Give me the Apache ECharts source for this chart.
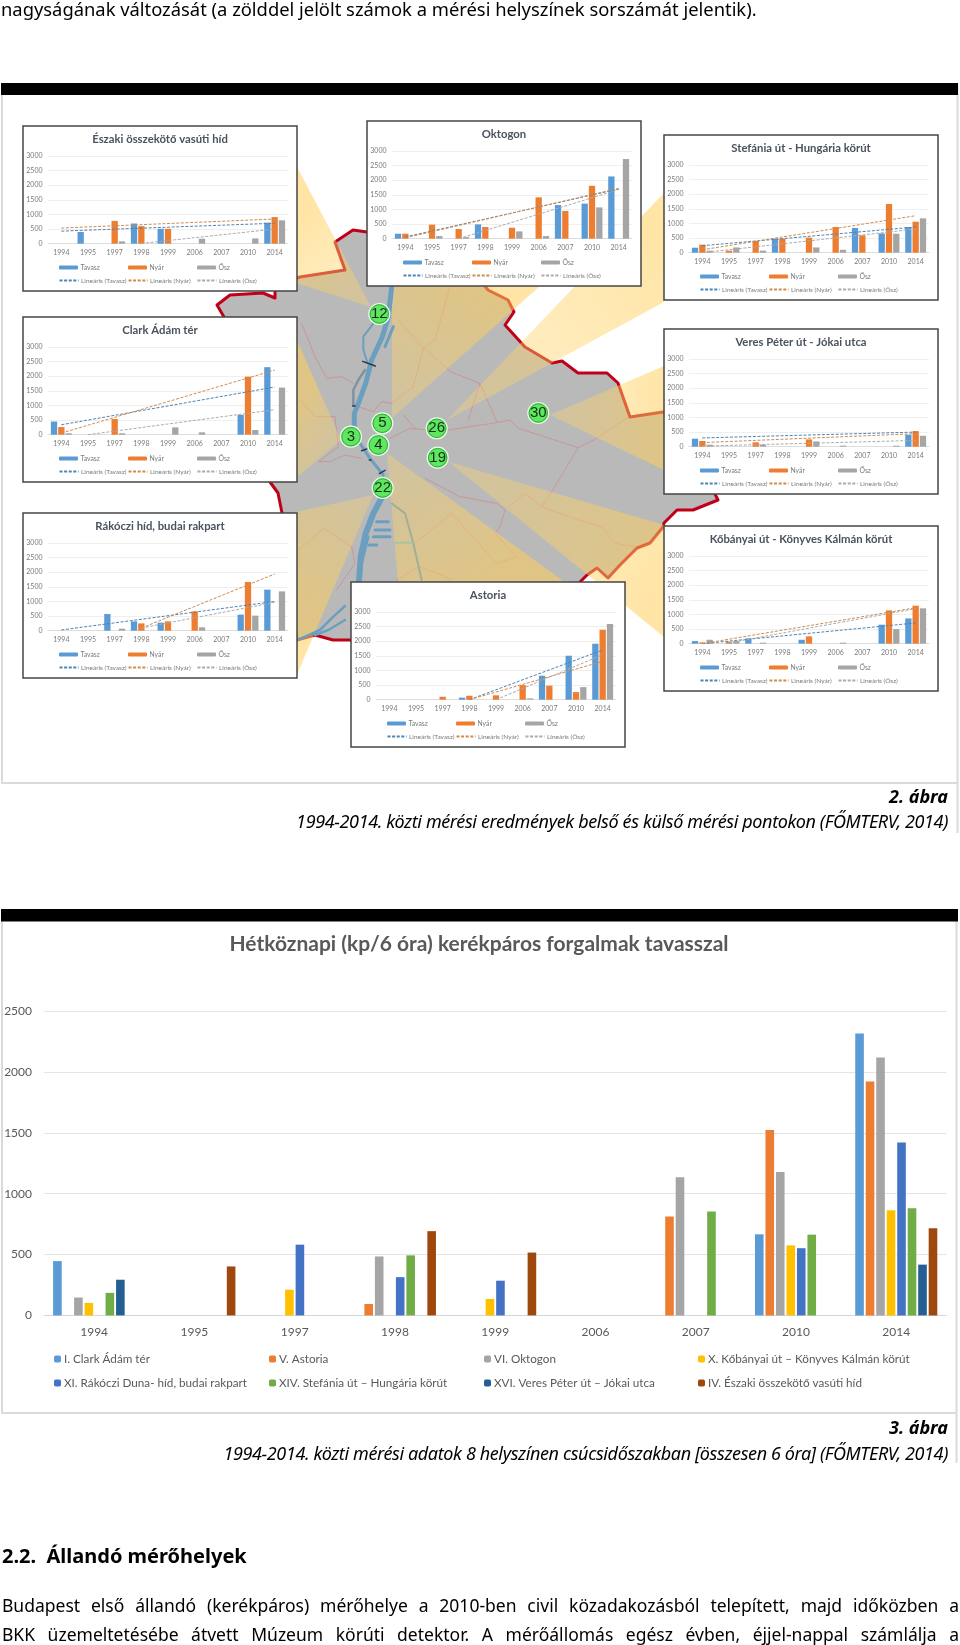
<!DOCTYPE html>
<html lang="hu"><head><meta charset="utf-8">
<script src="https://cdn.jsdelivr.net/npm/echarts@6/dist/echarts.min.js"></script>
<style>
html,body{margin:0;padding:0;background:#fff}
#page{position:relative;width:960px;height:1645px;overflow:hidden}
#chart{position:absolute;left:0;top:0;width:960px;height:1645px}
.t{position:absolute;white-space:nowrap;font-family:"Noto Sans",sans-serif;color:#000;line-height:24px;height:24px}
.r{text-align:right;right:12px}
.i{font-style:italic}
.j{left:2px;width:957px;white-space:normal;text-align:justify;text-align-last:justify;font-size:17.5px}
</style></head><body>
<div id="page">
<div id="chart"></div>
<div class="t" style="left:1px;top:-3px;font-size:18.37px">nagyságának változását (a zölddel jelölt számok a mérési helyszínek sorszámát jelentik).</div>
<div class="t r i" style="top:784px;font-size:18px;font-weight:700">2. ábra</div>
<div class="t r i" style="top:809px;font-size:18px;letter-spacing:-.37px">1994-2014. közti mérési eredmények belső és külső mérési pontokon (FŐMTERV, 2014)</div>
<div class="t r i" style="top:1415px;font-size:18px;font-weight:700">3. ábra</div>
<div class="t r i" style="top:1441px;font-size:18px;letter-spacing:-.38px">1994-2014. közti mérési adatok 8 helyszínen csúcsidőszakban [összesen 6 óra] (FŐMTERV, 2014)</div>
<div class="t" style="left:2px;top:1544px;font-size:20px;font-weight:700">2.2.&nbsp; Állandó mérőhelyek</div>
<div class="t j" style="top:1593px">Budapest első állandó (kerékpáros) mérőhelye a 2010-ben civil közadakozásból telepített, majd időközben a</div>
<div class="t j" style="top:1622px">BKK üzemeltetésébe átvett Múzeum körúti detektor. A mérőállomás egész évben, éjjel-nappal számlálja a</div>
</div>
<script>
// ---- shared categories and ticks
const years = ['1994','1995','1997','1998','1999','2006','2007','2010','2014'];

// ---- main chart: 8 measuring sites, spring weekday traffic (kp/6 óra)
const mainTitle = 'Hétköznapi (kp/6 óra) kerékpáros forgalmak tavasszal';
const clarkAdam  = [446,null,null,null,null,null,null,666,2315];
const astoria    = [null,null,null,94,null,null,813,1523,1922];
const oktogon    = [147,null,null,484,null,null,1135,1177,2118];
const kobanyai   = [103,null,211,null,135,null,null,575,863];
const rakoczi    = [null,null,581,314,285,null,null,552,1420];
const stefania   = [185,null,null,493,null,null,854,663,880];
const veres      = [293,null,null,null,null,null,null,null,417];
const eszaki     = [null,402,null,692,516,null,null,null,716];
const mainNames = ['I. Clark Ádám tér','V. Astoria','VI. Oktogon','X. Kőbányai út – Könyves Kálmán körút',
  'XI. Rákóczi Duna- híd, budai rakpart','XIV. Stefánia út – Hungária körút','XVI. Veres Péter út – Jókai utca','IV. Északi összekötő vasúti híd'];
const mainValues = [clarkAdam,astoria,oktogon,kobanyai,rakoczi,stefania,veres,eszaki];
const mainColors = ['#5B9BD5','#ED7D31','#A5A5A5','#FFC000','#4472C4','#70AD47','#255E91','#9E480E'];

// ---- small charts: Tavasz / Nyár / Ősz bars and their linear trends
const eszakiT = [null,400,null,690,510,null,null,null,720];
const eszakiN = [null,null,780,600,510,null,null,null,910];
const eszakiO = [null,null,80,null,null,170,null,180,800];
const eszakiTrendT = [430,null,null,null,null,null,null,null,700];
const eszakiTrendN = [535,null,null,null,null,null,null,null,845];
const eszakiTrendO = [null,null,null,10,null,null,null,null,500];

const clarkT = [450,null,null,null,null,null,null,680,2310];
const clarkN = [260,null,540,null,null,null,null,1985,null];
const clarkO = [50,null,50,null,250,80,null,160,1610];
const clarkTrendT = [340,null,null,null,null,null,null,null,1630];
const clarkTrendN = [55,null,null,null,null,null,null,null,2210];
const clarkTrendO = [null,0,null,null,null,null,null,null,855];

const oktogonT = [170,null,null,490,null,null,1150,1200,2130];
const oktogonN = [170,480,330,400,375,1415,950,1810,null];
const oktogonO = [null,90,55,null,250,90,null,1070,2725];
const oktogonTrendT = [60,null,null,null,null,null,null,null,1700];
const oktogonTrendN = [30,null,null,null,null,null,null,null,1720];
const oktogonTrendO = [null,null,0,null,null,null,null,null,1680];

const stefaniaT = [170,null,null,480,null,null,845,660,880];
const stefaniaN = [275,70,400,480,515,880,595,1665,1060];
const stefaniaO = [70,180,70,null,180,100,null,650,1175];
const stefaniaTrendT = [240,null,null,null,null,null,null,null,880];
const stefaniaTrendN = [100,null,null,null,null,null,null,null,1265];
const stefaniaTrendO = [0,null,null,null,null,null,null,null,810];

const veresT = [275,null,null,null,null,null,null,null,410];
const veresN = [195,null,150,null,250,null,null,null,535];
const veresO = [70,null,70,null,180,35,null,35,375];
const veresTrendT = [300,null,null,null,null,null,null,null,500];
const veresTrendN = [140,null,null,null,null,null,null,null,445];
const veresTrendO = [20,null,null,null,null,null,null,null,215];

const kobanyaiT = [90,null,180,null,135,null,null,650,865];
const kobanyaiN = [45,70,null,null,250,null,null,1140,1300];
const kobanyaiO = [135,90,35,null,null,35,null,500,1210];
const kobanyaiTrendT = [0,null,null,null,null,null,null,null,710];
const kobanyaiTrendN = [0,null,null,null,null,null,null,null,1230];
const kobanyaiTrendO = [null,30,null,null,null,null,null,null,1200];

const rakocziT = [null,null,570,320,275,null,null,550,1405];
const rakocziN = [null,null,null,250,320,660,null,1665,null];
const rakocziO = [null,null,70,null,null,115,null,515,1345];
const rakocziTrendT = [25,null,null,null,null,null,null,null,1000];
const rakocziTrendN = [null,null,null,90,null,null,null,null,1940];
const rakocziTrendO = [null,null,null,90,null,null,null,null,970];

const astoriaT = [null,null,null,70,null,null,820,1505,1915];
const astoriaN = [null,null,100,135,150,500,480,260,2395];
const astoriaO = [null,null,null,null,null,45,null,430,2590];
const astoriaTrendT = [null,null,null,0,null,null,null,null,1700];
const astoriaTrendN = [null,null,null,0,null,null,null,null,1310];
const astoriaTrendO = [null,null,null,null,0,null,null,null,1540];

const seasonNames = ['Tavasz','Nyár','Ősz'];
const trendNames = ['Lineáris (Tavasz)','Lineáris (Nyár)','Lineáris (Ősz)'];
const seasonColors = ['#5B9BD5','#ED7D31','#A5A5A5'];
const trendColors = ['#4C84B4','#D08A4E','#ABABAB'];

const panels = [
 {title:'Északi összekötő vasúti híd',x:23,y:126,bars:[eszakiT,eszakiN,eszakiO],trends:[eszakiTrendT,eszakiTrendN,eszakiTrendO]},
 {title:'Clark Ádám tér',x:23,y:317,bars:[clarkT,clarkN,clarkO],trends:[clarkTrendT,clarkTrendN,clarkTrendO]},
 {title:'Oktogon',x:367,y:121,bars:[oktogonT,oktogonN,oktogonO],trends:[oktogonTrendT,oktogonTrendN,oktogonTrendO]},
 {title:'Stefánia út - Hungária körút',x:664,y:135,bars:[stefaniaT,stefaniaN,stefaniaO],trends:[stefaniaTrendT,stefaniaTrendN,stefaniaTrendO]},
 {title:'Veres Péter út - Jókai utca',x:664,y:329,bars:[veresT,veresN,veresO],trends:[veresTrendT,veresTrendN,veresTrendO]},
 {title:'Kőbányai út - Könyves Kálmán körút',x:664,y:526,bars:[kobanyaiT,kobanyaiN,kobanyaiO],trends:[kobanyaiTrendT,kobanyaiTrendN,kobanyaiTrendO]},
 {title:'Rákóczi híd, budai rakpart',x:23,y:513,bars:[rakocziT,rakocziN,rakocziO],trends:[rakocziTrendT,rakocziTrendN,rakocziTrendO]},
 {title:'Astoria',x:351,y:582,bars:[astoriaT,astoriaN,astoriaO],trends:[astoriaTrendT,astoriaTrendN,astoriaTrendO]}
];

// ---- map backdrop of figure 2 (decoration in page coordinates)
const cityOutline = [[367,232],[353,230],[335,242],[345,270],[300,277],[285,282],[275,291],[275,298],[263,293],[230,295],[217,305],[224,317],[240,400],[270,482],[278,493],[282,513],[290,600],[297,640],[315,635],[333,640],[350,640],[420,680],[540,640],[580,582],[587,575],[597,568],[608,578],[620,565],[637,548],[650,543],[663,527],[664,523],[677,510],[693,510],[718,500],[715,494],[730,470],[700,420],[663,412],[630,417],[618,383],[607,373],[578,373],[562,361],[552,363],[525,347],[505,325],[514,312],[508,300],[488,290],[485,286],[430,240]];
const wedges = [
 [[371,307],[296,165],[296,283]],
 [[392,418],[392,286],[540,286]],
 [[447,420],[664,193],[664,302]],
 [[550,415],[664,366],[664,470]],
 [[449,462],[664,525],[664,637]],
 [[387,453],[398,583],[566,583]],
 [[373,495],[296,512],[296,677]],
 [[341,440],[296,338],[296,478]]
];
const z7 = (p) => p.map(q => [295 + q[0] / 3, 280 + q[1] / 3]);
const districtLines = [
 [[20,130],[60,230],[95,295],[140,290],[175,310]],
 [[175,375],[235,395],[260,365],[290,370],[355,320],[385,205],[430,240],[465,275],[555,310],[605,425]],
 [[285,475],[345,445],[395,450],[460,450],[605,428],[645,420],[670,445],[850,503],[900,478],[1005,408]],
 [[850,503],[770,635],[740,680],[690,640],[640,680]],
 [[325,405],[360,445]],
 [[390,595],[495,650],[605,670],[630,690],[615,740],[600,760],[665,830],[605,850],[470,700],[360,790]],
 [[740,680],[850,720],[920,740],[960,790],[1020,800]],
 [[15,360],[60,410],[120,410],[130,500],[70,545],[105,545],[150,525],[200,535]],
 [[0,820],[85,745],[170,800],[180,850],[125,930]],
 [[305,900],[370,860],[430,880],[470,900]],
 [[465,20],[420,180],[385,205],[310,120]],
 [[555,310],[520,420]]
];
const riverLines = [
 {w:5,p:[[290,20],[280,110],[262,170],[230,240],[212,310],[190,370],[178,400],[178,450]]},
 {w:3,p:[[178,450],[195,490],[225,535],[265,585]]},
 {w:2,p:[[235,130],[205,170],[205,210],[218,250]]},
 {w:2.5,p:[[210,270],[190,300],[175,330],[175,375]],c:'#7F93A3'},
 {w:3,p:[[295,140],[270,200]]},
 {w:6,p:[[262,650],[235,700],[212,760],[197,830],[192,905]]},
 {w:3,p:[[245,725],[280,725]]},{w:3,p:[[240,750],[285,750]]},{w:3,p:[[235,770],[285,770]]},{w:3,p:[[222,795],[245,795]]},
 {w:3,p:[[192,905],[170,940]]}
];
const riverSouth = [[[1105,170],[1085,250],[1075,310]],[[1035,378],[1000,410],[960,450],[890,482]],[[1035,420],[985,450],[945,465]]];
const sideLines = [[[290,670],[330,700],[355,790],[380,900]]];
const bridgeTicks = [[[203,244],[241,258]],[[253,581],[270,571]],[[200,512],[215,507]],[[173,378],[180,378]],[[223,540],[228,540]]];
const markers = [['12',379.3,314],['5',382.3,423.3],['3',351,436.7],['4',378.3,445],['26',436.7,428.3],['19',437.7,457.7],['22',382.7,488],['30',538.3,413]];

// ---- building the option
const chart = echarts.init(document.getElementById('chart'), null, {renderer:'canvas'});
const FONT = 'Lato, "Open Sans", sans-serif';
const g = [];
const line = (points, stroke, lineWidth, opacity) => g.push({type:'polyline',silent:true,shape:{points},style:{stroke,lineWidth,fill:null,opacity:opacity==null?1:opacity,lineJoin:'round',lineCap:'round'}});
const bar = (x,y,w,h,fill) => g.push({type:'rect',silent:true,shape:{x,y,width:w,height:h},style:{fill}});

// frames
bar(1,782,956,2,'#DADADA'); bar(1,83,2,700,'#DADADA'); bar(956.5,83,2,750,'#DADADA');
bar(1,1412,955,2,'#DADADA'); bar(1,910,2,504,'#DADADA'); bar(955.5,910,2,553,'#DADADA');
// map
g.push({type:'polygon',silent:true,shape:{points:cityOutline},style:{fill:'#B9B9B9'}});
districtLines.forEach(l => line(z7(l),'#E06A6A',1,.45));
line(cityOutline.concat([cityOutline[0]]),'#C00018',3);
wedges.forEach(w => {
  const far = [(w[1][0]+w[2][0])/2,(w[1][1]+w[2][1])/2];
  g.push({type:'polygon',silent:true,shape:{points:w},style:{fill:new echarts.graphic.LinearGradient(w[0][0],w[0][1],far[0],far[1],[
    {offset:0,color:'rgba(255,214,110,.34)'},{offset:1,color:'rgba(255,206,90,.54)'}],true)}});
});
sideLines.forEach(l => line(z7(l),'#A3AE96',2));
line(z7([[300,788],[352,788]]),'#A9C3A0',2);
riverLines.forEach(r => line(z7(r.p),r.c||'#6A9FBF',r.w));
riverSouth.forEach(p => line(p.map(q=>[q[0]/3,480+q[1]/3]),'#6A9FBF',2.5));
bridgeTicks.forEach(l => line(z7(l),'#2A3A48',1.5));
markers.forEach(m => {
  g.push({type:'circle',silent:true,shape:{cx:m[1],cy:m[2],r:10.5},style:{fill:'#62EA62',stroke:'#E9FBE9',lineWidth:1.2}});
  g.push({type:'circle',silent:true,shape:{cx:m[1],cy:m[2],r:9.2},style:{fill:'#5FE85F',stroke:'#2D8A3A',lineWidth:.7}});
  g.push({type:'text',silent:true,x:m[1],y:m[2],style:{text:m[0],fill:'#14301A',font:'15px "Liberation Sans"',align:'center',verticalAlign:'middle'}});
});
panels.forEach(p => g.push({type:'rect',silent:true,shape:{x:p.x,y:p.y,width:274,height:165},style:{fill:'#fff',stroke:'#454545',lineWidth:1.5}}));
// black bars
bar(1,83,957,12,'#000'); bar(1,909,957,12.4,'#000');

const grids=[],xAxes=[],yAxes=[],series=[],legends=[],titles=[];
const axisPair = (idx,labelSize,labelColor,margins,yMax,interval,gridLineColor,axisColor) => {
  xAxes.push({type:'category',gridIndex:idx,data:years,z:3,axisTick:{show:false},axisLine:{lineStyle:{color:axisColor,width:1}},
    axisLabel:{interval:0,fontFamily:FONT,fontSize:labelSize,color:labelColor,margin:margins[0]}});
  yAxes.push({type:'value',gridIndex:idx,min:0,max:yMax,interval,z:3,axisLine:{show:false},axisTick:{show:false},
    axisLabel:{formatter:v=>String(v),fontFamily:FONT,fontSize:labelSize,color:labelColor,margin:margins[1]},splitLine:{lineStyle:{color:gridLineColor,width:1}}});
};
panels.forEach((p,i) => {
  grids.push({left:p.x+25,top:p.y+30,width:240,height:87.7});
  axisPair(i,7,'#7A7A7A',[6,5.5],3000,500,'#EFEFEF','#DDDDDD');
  titles.push({text:p.title,left:p.x+137,top:p.y+13.5,padding:0,z:6,textAlign:'center',textVerticalAlign:'middle',
    textStyle:{fontFamily:FONT,fontSize:11.3,fontWeight:700,color:'#49525E'}});
  seasonNames.forEach((n,k) => {
    series.push({name:n,type:'bar',xAxisIndex:i,yAxisIndex:i,data:p.bars[k],barWidth:6.3,barGap:'16%',itemStyle:{color:seasonColors[k]},silent:true,z:4});
    legends.push({data:[n],left:p.x+36+k*69,top:p.y+138,padding:0,itemWidth:19,itemHeight:4,selectedMode:false,z:5,
      textStyle:{fontFamily:FONT,fontSize:6.8,color:'#7A7A7A',padding:[0,0,0,-2.5]}});
  });
  trendNames.forEach((n,k) => {
    series.push({name:n,type:'line',xAxisIndex:i,yAxisIndex:i,data:p.trends[k],connectNulls:true,symbol:'none',silent:true,z:5,
      lineStyle:{color:trendColors[k],width:1,type:[3,1.6]}});
    legends.push({data:[n],left:p.x+35.5+k*69,top:p.y+151,padding:0,itemWidth:19,itemHeight:6,selectedMode:false,z:5,
      itemStyle:{opacity:0,color:'transparent',borderWidth:0},lineStyle:{opacity:1,color:trendColors[k]},
      textStyle:{fontFamily:FONT,fontSize:6.5,color:'#7A7A7A',padding:[0,0,0,-2.5]}});
  });
});
// main chart
const mi = panels.length;
grids.push({left:44,top:1011,width:902.4,height:304.4});
axisPair(mi,12,'#595959',[11,12],2500,500,'#E4E4E4','#D6D6D6');
titles.push({text:mainTitle,left:479,top:944.5,padding:0,z:6,textAlign:'center',textVerticalAlign:'middle',
  textStyle:{fontFamily:FONT,fontSize:21,fontWeight:700,color:'#595959'}});
mainNames.forEach((n,k) => {
  series.push({name:n,type:'bar',xAxisIndex:mi,yAxisIndex:mi,data:mainValues[k],barWidth:8.6,barGap:'22%',itemStyle:{color:mainColors[k]},silent:true,z:4});
  legends.push({data:[n],left:[54,269,484,698][k%4],top:k<4?1353:1377,padding:0,itemWidth:7,itemHeight:7,selectedMode:false,z:5,
    textStyle:{fontFamily:FONT,fontSize:11.7,color:'#595959',padding:[0,0,0,-2]}});
});

chart.setOption({animation:false,backgroundColor:'#fff',graphic:{elements:g},title:titles,grid:grids,xAxis:xAxes,yAxis:yAxes,legend:legends,series});
</script>
</body></html>
